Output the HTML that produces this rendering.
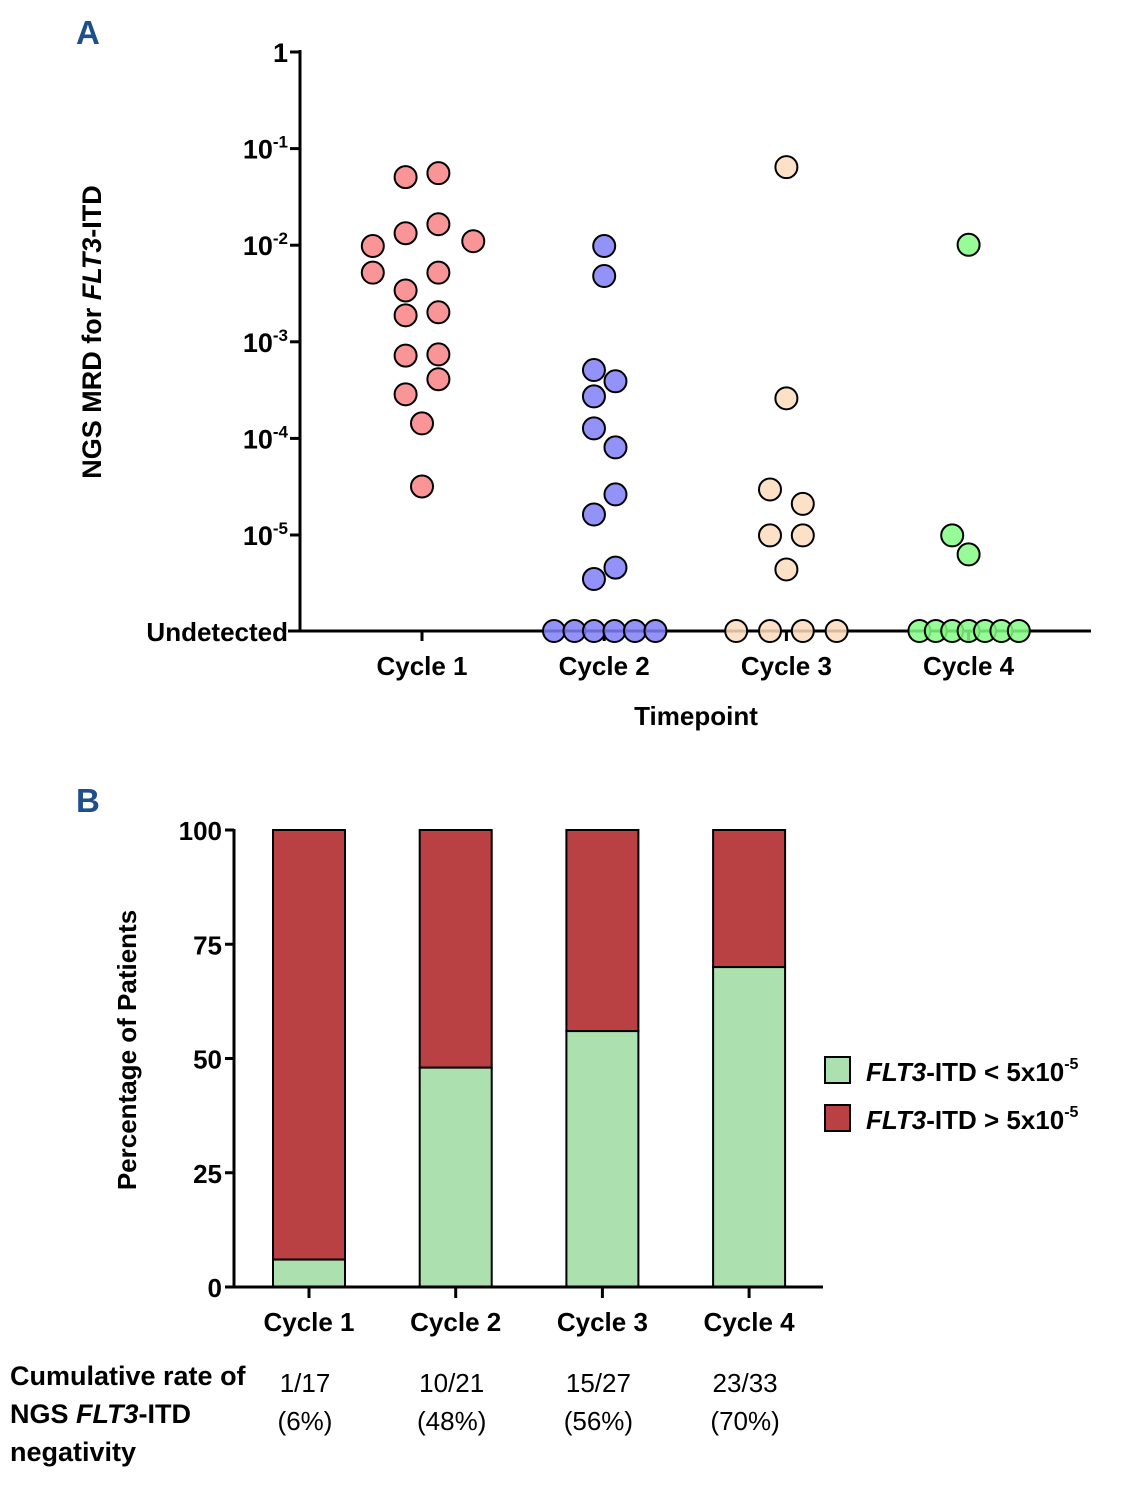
<!DOCTYPE html>
<html><head><meta charset="utf-8"><style>
body{margin:0;background:#fff;width:1124px;height:1494px;overflow:hidden}
svg{display:block;font-family:"Liberation Sans",sans-serif}
</style></head><body>
<svg id="fig" width="1124" height="1494" viewBox="0 0 1124 1494">
<text x="76" y="44" font-size="33" font-weight="bold" fill="#1f4e8c">A</text>
<text x="76" y="812" font-size="33" font-weight="bold" fill="#1f4e8c">B</text>
<g id="pa"></g>
<g id="pb"></g>
</svg>
<script>
// ---- Panel A data ----
const categoriesA = ["Cycle 1","Cycle 2","Cycle 3","Cycle 4"];
const tickExpA = [0,-1,-2,-3,-4,-5];
// values (0 = undetected)
const c1Values = [0.0507,0.0557,0.0133,0.0165,0.0098,0.011,0.0052,0.0052,0.0034,0.00188,0.00202,0.00072,0.00074,0.00041,0.000286,0.000143,0.0000318];
const c1Slots  = [-0.8,0.8,-0.8,0.8,-2.4,2.5,-2.4,0.8,-0.8,-0.8,0.8,-0.8,0.8,0.8,-0.8,0,0];
const c2Values = [0.0098,0.0048,0.00051,0.00039,0.000272,0.000127,0.0000807,0.0000263,0.0000163,0.0000046,0.0000035,0,0,0,0,0,0];
const c2Slots  = [0,0,-0.5,0.55,-0.5,-0.5,0.55,0.55,-0.5,0.55,-0.5,-2.45,-1.45,-0.5,0.5,1.5,2.5];
const c3Values = [0.0643,0.00026,0.0000296,0.000021,0.0000099,0.0000099,0.0000044,0,0,0,0];
const c3Slots  = [0,0,-0.8,0.8,-0.8,0.8,0,-2.45,-0.8,0.8,2.45];
const c4Values = [0.0101,0.0000099,0.0000063,0,0,0,0,0,0,0];
const c4Slots  = [0,-0.8,0,-2.4,-1.6,-0.8,0,0.8,1.6,2.45];
const seriesA = [c1Values,c2Values,c3Values,c4Values];
const slotsA = [c1Slots,c2Slots,c3Slots,c4Slots];
const colorsA = ["#f98385","#7f7ff7","#fddcbc","#84fb84"];

// ---- Panel B data ----
const categoriesB = ["Cycle 1","Cycle 2","Cycle 3","Cycle 4"];
const negPct = [6,48,56,70];
const ticksB = [0,25,50,75,100];
const fractions = ["1/17","10/21","15/27","23/33"];
const pctLabels = ["(6%)","(48%)","(56%)","(70%)"];

const NS="http://www.w3.org/2000/svg";
function el(tag,attrs,parent,txt){const e=document.createElementNS(NS,tag);for(const k in attrs)e.setAttribute(k,attrs[k]);if(txt!==undefined)e.textContent=txt;parent.appendChild(e);return e;}

// Panel A
const pa=document.getElementById('pa');
const ay=e=>52+(-e)*96.6;
const yA=v=>v<=0?631:ay(Math.log10(v));
const xA=i=>422+i*182.2;
el('line',{x1:300,y1:50,x2:300,y2:632,stroke:'#000','stroke-width':3},pa);
el('line',{x1:288,y1:631,x2:1091,y2:631,stroke:'#000','stroke-width':3},pa);
tickExpA.forEach(e=>{
  const y=ay(e);
  el('line',{x1:290,y1:y,x2:300,y2:y,stroke:'#000','stroke-width':3},pa);
  const t=el('text',{x:288,y:y+10,'text-anchor':'end','font-size':27,'font-weight':'bold'},pa);
  
  
  if(e===0){t.textContent='1';}else{
    const a=document.createElementNS(NS,'tspan');a.textContent='10';t.appendChild(a);
    const b=document.createElementNS(NS,'tspan');b.setAttribute('font-size','17');b.setAttribute('dy','-11');b.textContent=String(e);t.appendChild(b);
  }
});
const ut=el('text',{x:288,y:641,'text-anchor':'end','font-size':26,'font-weight':'bold'},pa,'Undetected');


categoriesA.forEach((c,i)=>{
  el('line',{x1:xA(i),y1:631,x2:xA(i),y2:641,stroke:'#000','stroke-width':3},pa);
  const t=el('text',{x:xA(i),y:675,'text-anchor':'middle','font-size':26,'font-weight':'bold'},pa,c);
  
  
});
const xt=el('text',{x:696,y:725,'text-anchor':'middle','font-size':26,'font-weight':'bold'},pa,'Timepoint');


const yt=el('text',{transform:'translate(101,332) rotate(-90)','text-anchor':'middle','font-size':27,'font-weight':'bold'},pa);


yt.innerHTML='NGS MRD for <tspan font-style="italic">FLT3</tspan>-ITD';
seriesA.forEach((vals,i)=>{
  vals.forEach((v,j)=>{
    const c=el('circle',{cx:xA(i)+slotsA[i][j]*20.5,cy:yA(v),r:11,fill:colorsA[i],'fill-opacity':0.85,stroke:'#000','stroke-width':2},pa);
    
    
  });
});

// Panel B
const pb=document.getElementById('pb');
const yB=v=>1287-v*4.57;
const xB=i=>309+i*146.7;
categoriesB.forEach((c,i)=>{
  const x0=xB(i)-36;
  const r=el('rect',{x:x0,y:yB(100),width:72,height:yB(negPct[i])-yB(100),fill:'#b94043',stroke:'#000','stroke-width':2},pb);
  
  
  const g=el('rect',{x:x0,y:yB(negPct[i]),width:72,height:yB(0)-yB(negPct[i]),fill:'#ace0af',stroke:'#000','stroke-width':2},pb);
  
  
  el('line',{x1:xB(i),y1:1287,x2:xB(i),y2:1298,stroke:'#000','stroke-width':3},pb);
  const t=el('text',{x:xB(i),y:1331,'text-anchor':'middle','font-size':26,'font-weight':'bold'},pb,c);
  
  
  const f=el('text',{x:xB(i)-4,y:1392,'text-anchor':'middle','font-size':26},pb,fractions[i]);
  
  
  const p=el('text',{x:xB(i)-4,y:1430,'text-anchor':'middle','font-size':26},pb,pctLabels[i]);
  
  
});
el('line',{x1:234,y1:829,x2:234,y2:1288,stroke:'#000','stroke-width':3},pb);
el('line',{x1:226,y1:1287,x2:823,y2:1287,stroke:'#000','stroke-width':3},pb);
ticksB.forEach(v=>{
  el('line',{x1:225,y1:yB(v),x2:234,y2:yB(v),stroke:'#000','stroke-width':3},pb);
  const t=el('text',{x:222,y:yB(v)+10,'text-anchor':'end','font-size':26,'font-weight':'bold'},pb,String(v));
  
  
});
const ybt=el('text',{transform:'translate(136,1050) rotate(-90)','text-anchor':'middle','font-size':26,'font-weight':'bold'},pb,'Percentage of Patients');


[['#ace0af','<'],['#b94043','>']].forEach((L,k)=>{
  const y=1057+k*48;
  const s=el('rect',{x:825,y:y,width:25,height:26,fill:L[0],stroke:'#000','stroke-width':2},pb);
  
  
  const t=el('text',{x:866,y:y+24,'font-size':26,'font-weight':'bold'},pb);
  
  
  t.innerHTML='<tspan font-style="italic">FLT3</tspan>-ITD '+(L[1]==='<'?'&lt;':'&gt;')+' 5x10<tspan font-size="16" dy="-12">-5</tspan>';
});
const cum=el('text',{x:10,y:1385,'font-size':27,'font-weight':'bold'},pb);


cum.innerHTML='<tspan x="10">Cumulative rate of</tspan><tspan x="10" dy="38">NGS <tspan font-style="italic">FLT3</tspan>-ITD</tspan><tspan x="10" dy="38">negativity</tspan>';
</script>
</body></html>
